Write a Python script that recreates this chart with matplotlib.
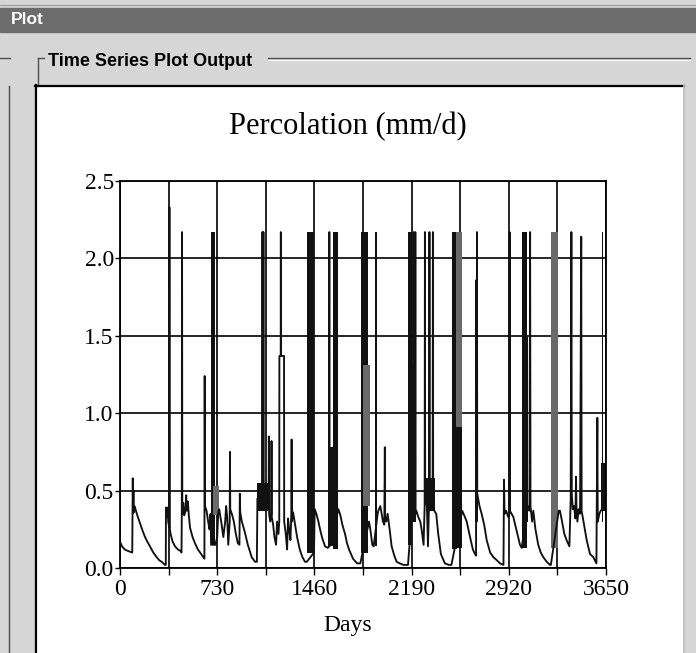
import matplotlib
matplotlib.use("Agg")
import matplotlib.pyplot as plt
from matplotlib.patches import Rectangle
from matplotlib.lines import Line2D

# ---------------- data ----------------
title = "Percolation (mm/d)"
x_label = "Days"
x_ticks = [0, 730, 1460, 2190, 2920, 3650]
x_minor = [365, 1095, 1825, 2555, 3285]
y_ticks = [0.0, 0.5, 1.0, 1.5, 2.0, 2.5]

# daily percolation trace (breakpoints), mm/d
line_days = [
    0, 15, 35, 60, 92, 94, 96, 98, 101, 104, 108, 113, 130, 150, 170, 188, 205, 225, 250, 275, 295, 313, 338,
    344, 345, 350, 352, 356, 358, 362, 370, 371, 373, 380, 395, 413, 435, 455, 462,
    464, 466, 468, 475, 482, 490, 497, 503, 510, 516, 526, 545, 563, 585, 601, 626, 634,
    636, 638, 650, 662, 672, 680, 684, 716, 730, 738, 745, 760, 776, 790, 797, 805, 813, 824, 826, 828,
    840, 855, 870, 885, 897, 900, 903, 915, 935, 960, 989, 1014, 1028,
    1032, 1068, 1070, 1072, 1075, 1077, 1079, 1110, 1116, 1118, 1120, 1128, 1136, 1138, 1140, 1150, 1160,
    1172, 1180, 1190, 1196, 1197, 1207, 1208, 1209, 1232, 1233, 1245, 1255, 1262, 1270, 1280, 1287, 1289,
    1291, 1300, 1315, 1330, 1350, 1370, 1390, 1403, 1457, 1462, 1475, 1490, 1505, 1520, 1540, 1560, 1570,
    1572, 1574, 1640, 1655, 1670, 1690, 1705, 1720, 1750, 1780, 1805, 1870, 1880, 1895, 1905, 1935, 1940,
    1955, 1965, 1975, 1985, 1989, 1991, 2000, 2010, 2025, 2040, 2060, 2078, 2100, 2130, 2163,
    2192, 2204, 2205, 2206, 2217, 2218, 2219, 2225, 2240, 2255, 2265, 2280, 2288, 2290, 2292, 2305, 2313,
    2322, 2324, 2326, 2340, 2348, 2350, 2352, 2360, 2375, 2390, 2410, 2440, 2470, 2489,
    2570, 2590, 2604, 2629, 2650, 2666, 2674, 2676, 2678, 2681, 2683, 2700, 2716, 2735, 2754, 2780, 2804,
    2830, 2854, 2880, 2884, 2888, 2900, 2915, 2924, 2926, 2928, 2954, 2979, 3004, 3017,
    3062, 3075, 3080, 3083, 3095, 3104, 3120, 3141, 3160, 3179, 3205, 3229, 3236,
    3295, 3304, 3320, 3337, 3354, 3375, 3385, 3390, 3393, 3400, 3410, 3420, 3425, 3428, 3435, 3445, 3455,
    3464, 3467, 3485, 3505, 3530, 3555, 3578, 3585, 3588, 3600, 3610, 3650,
]
line_vals = [
    0.17, 0.14, 0.12, 0.11, 0.10, 0.35, 0.58, 0.38, 0.50, 0.36, 0.40, 0.39, 0.34, 0.29, 0.24, 0.20, 0.17, 0.14, 0.10, 0.07, 0.05, 0.04, 0.02,
    0.02, 0.39, 0.39, 0.33, 0.33, 0.39, 0.30, 0.26, 2.33, 0.26, 0.22, 0.17, 0.14, 0.12, 0.11, 0.10,
    0.33, 2.17, 0.35, 0.42, 0.34, 0.36, 0.47, 0.37, 0.43, 0.35, 0.26, 0.20, 0.16, 0.12, 0.10, 0.07, 0.06,
    1.24, 0.40, 0.37, 0.30, 0.25, 0.35, 0.15, 0.15, 0.20, 0.36, 0.38, 0.30, 0.20, 0.30, 0.40, 0.33, 0.15, 0.30, 0.75, 0.38,
    0.35, 0.30, 0.22, 0.16, 0.15, 0.48, 0.36, 0.30, 0.24, 0.15, 0.07, 0.04, 0.04,
    0.45, 0.45, 2.17, 0.45, 0.40, 2.17, 0.45, 0.40, 0.38, 0.85, 0.35, 0.30, 0.35, 0.82, 0.33, 0.28, 0.20,
    0.15, 0.30, 0.22, 0.30, 1.37, 1.37, 2.17, 1.37, 1.37, 0.30, 0.22, 0.12, 0.32, 0.25, 0.18, 0.35, 0.83,
    0.30, 0.36, 0.28, 0.20, 0.12, 0.07, 0.04, 0.04, 0.10, 0.38, 0.35, 0.30, 0.24, 0.19, 0.14, 0.13, 0.14,
    2.17, 0.14, 0.38, 0.34, 0.28, 0.22, 0.16, 0.12, 0.06, 0.03, 0.03, 0.30, 0.25, 0.15, 0.14, 0.35, 0.37,
    0.40, 0.35, 0.30, 0.28, 0.78, 0.32, 0.30, 0.35, 0.25, 0.14, 0.08, 0.04, 0.03, 0.02, 0.02,
    0.35, 0.35, 2.17, 0.35, 0.35, 2.17, 0.35, 0.37, 0.33, 0.30, 0.25, 0.15, 0.40, 2.17, 0.45, 0.40, 0.14,
    0.45, 2.17, 0.45, 0.40, 0.45, 2.17, 0.40, 0.37, 0.35, 0.22, 0.09, 0.03, 0.02, 0.02,
    0.37, 0.33, 0.30, 0.20, 0.12, 0.09, 0.08, 1.86, 0.30, 2.17, 0.48, 0.40, 0.35, 0.28, 0.18, 0.10, 0.07,
    0.05, 0.03, 0.02, 0.57, 0.35, 0.37, 0.33, 0.35, 2.17, 0.37, 0.33, 0.24, 0.15, 0.13,
    0.40, 0.37, 2.17, 0.40, 0.30, 0.37, 0.25, 0.15, 0.10, 0.07, 0.04, 0.02, 0.02,
    0.37, 0.37, 0.30, 0.22, 0.18, 0.14, 0.45, 2.17, 0.48, 0.38, 0.40, 0.32, 0.59, 0.40, 0.30, 0.38, 0.35,
    2.14, 0.37, 0.28, 0.18, 0.09, 0.07, 0.03, 0.97, 0.30, 0.35, 0.37, 0.40,
]

# periods of rapid daily oscillation that render as solid bands
block_start = [94, 684, 700, 1032, 1405, 1565, 1600, 1808, 1828, 1912, 2165, 2190, 2300, 2491, 2525, 2525, 3018, 3020, 3237, 3612, 3618]
block_end   = [103, 714, 740, 1110, 1457, 1640, 1636, 1865, 1878, 1932, 2190, 2222, 2362, 2528, 2568, 2568, 3066, 3060, 3292, 3645, 3630]
block_low   = [0.35, 0.15, 0.34, 0.37, 0.10, 0.14, 0.12, 0.10, 0.40, 0.14, 0.15, 0.30, 0.37, 0.12, 0.91, 0.13, 0.30, 0.13, 0.13, 0.37, 0.30]
block_high  = [0.50, 2.17, 0.53, 0.55, 2.17, 0.78, 2.17, 2.17, 1.31, 2.17, 2.17, 1.31, 0.58, 2.17, 2.17, 0.91, 1.49, 2.17, 2.17, 0.68, 2.17]
block_tone  = ["k", "k", "g", "k", "k", "k", "k", "k", "g", "k", "k", "k", "k", "k", "g", "k", "k", "k", "g", "k", "k"]

# ---------------- figure & window chrome ----------------
W, H = 696, 653
fig = plt.figure(figsize=(W / 100, H / 100), dpi=100)
fig.patch.set_facecolor("#d6d6d6")


def rect(x0, y0, x1, y1, **kw):
    z = kw.pop("zorder", -5)
    fig.add_artist(Rectangle((x0 / W, 1 - y1 / H), (x1 - x0) / W, (y1 - y0) / H,
                             transform=fig.transFigure, zorder=z, **kw))


def seg(xs, ys, **kw):
    fig.add_artist(Line2D([x / W for x in xs], [1 - y / H for y in ys],
                          transform=fig.transFigure, zorder=-4, **kw))


seg([0, 696], [5, 5], color="#9a9a9a", lw=0.8)
rect(0, 8, 696, 32, color="#6c6c6c")
fig.text(11 / W, 1 - 20 / H, "Plot", color="white", fontsize=12.5, fontweight="bold",
         family="Liberation Sans", ha="left", va="center")

# group box
seg([268, 690], [58, 58], color="#505050", lw=1.0)
seg([268, 690], [59.5, 59.5], color="white", lw=0.8)
seg([0, 10], [58, 58], color="#505050", lw=1.0)
seg([38, 44], [58, 58], color="#505050", lw=1.0)
seg([38, 38], [58, 86], color="#505050", lw=1.0)
seg([9, 9], [86, 653], color="#505050", lw=1.0)
fig.text(48 / W, 1 - 61 / H, "Time Series Plot Output", color="black", fontsize=13,
         fontweight="bold", family="Liberation Sans", ha="left", va="center")

# white panel
rect(35, 85, 684, 653, facecolor="white", edgecolor="none")
seg([35, 684], [86, 86], color="black", lw=1.6)
seg([36, 36], [85, 653], color="black", lw=1.6)
seg([684, 684], [85, 653], color="#bdbdbd", lw=1.2)

fig.text(348 / W, 1 - 127 / H, title, fontsize=22, family="Liberation Serif",
         ha="center", va="center")
fig.text(348 / W, 1 - 625 / H, x_label, fontsize=17, family="Liberation Serif",
         ha="center", va="center")

# ---------------- axes ----------------
ax = fig.add_axes([120 / W, 1 - 568 / H, 486 / W, 387 / H])
ax.set_facecolor("white")
ax.set_xlim(0, 3650)
ax.set_ylim(0, 2.5)

tone_color = {"k": "#111111", "g": "#6a6a6a"}
ax.bar(block_start,
       [h - l for h, l in zip(block_high, block_low)],
       width=[e - s for s, e in zip(block_start, block_end)],
       bottom=block_low, align="edge",
       color=[tone_color[t] for t in block_tone], edgecolor="none", zorder=3)
ax.plot(line_days, line_vals, color="#111111", lw=1.35, zorder=4)

ax.set_xticks(x_ticks)
ax.set_xticks(x_minor, minor=True)
ax.set_yticks(y_ticks)
ax.set_yticklabels([f"{v:.1f}" for v in y_ticks])
ax.set_xticklabels([str(v) for v in x_ticks])
for lab in ax.get_xticklabels() + ax.get_yticklabels():
    lab.set_family("Liberation Serif")
    lab.set_fontsize(17)
ax.tick_params(axis="x", which="both", direction="out", length=5, width=1.0, pad=3, color="black")
ax.tick_params(axis="y", which="both", direction="out", length=3.5, width=1.0, pad=1, color="black")

ax.grid(True, which="both", axis="x", color="black", lw=1.2, zorder=1)
ax.grid(True, which="major", axis="y", color="black", lw=1.2, zorder=1)
ax.set_axisbelow(True)
for s in ax.spines.values():
    s.set_color("black")
    s.set_linewidth(1.3)

fig.savefig("out.png", dpi=100, facecolor=fig.get_facecolor())
